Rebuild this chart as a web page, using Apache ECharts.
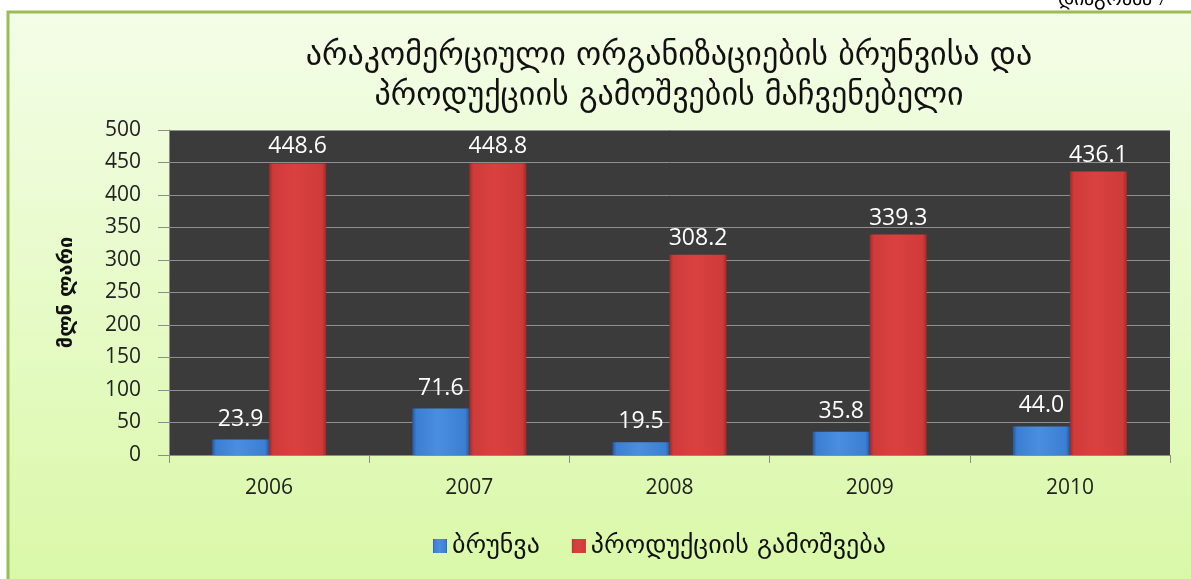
<!DOCTYPE html>
<html><head><meta charset="utf-8">
<script src="https://cdn.jsdelivr.net/npm/echarts@6/dist/echarts.min.js"></script>
<style>html,body{margin:0;padding:0;background:#fff}#c{width:1191px;height:579px}</style>
</head><body><div id="c"></div>
<script>
const categories = ['2006','2007','2008','2009','2010'];
const turnover = [23.9, 71.6, 19.5, 35.8, 44.0];
const production = [448.6, 448.8, 308.2, 339.3, 436.1];
const seriesNames = ['ბრუნვა', 'პროდუქციის გამოშვება'];
const yTicks = {min: 0, max: 500, interval: 50};
const titleLines = ['არაკომერციული ორგანიზაციების ბრუნვისა და', 'პროდუქციის გამოშვების მაჩვენებელი'];
const yName = 'მლნ ლარი';

const geo = '"DejaVu Sans", "Noto Sans", sans-serif';
const num = '"Open Sans", sans-serif';
const chart = echarts.init(document.getElementById('c'), null, {renderer: 'canvas'});
function barGrad(light, mid, dark) {
  return new echarts.graphic.LinearGradient(0, 0, 1, 0, [
    {offset: 0, color: dark}, {offset: 0.07, color: mid}, {offset: 0.45, color: light},
    {offset: 0.93, color: mid}, {offset: 1, color: dark}]);
}
chart.setOption({
  backgroundColor: '#ffffff',
  graphic: [
    {type: 'rect', shape: {x: 8, y: 12, width: 1200, height: 600}, z: -10,
     style: {fill: new echarts.graphic.LinearGradient(0, 0, 0, 1, [
       {offset: 0, color: '#f4fde8'}, {offset: 1, color: '#d8f8a4'}]),
       stroke: '#9bbb59', lineWidth: 3}},
    {type: 'text', left: 1058, top: -10, z: 5,
     style: {text: 'დიაგრამა 7', fontSize: 20, fontFamily: 'serif', fill: '#000'}}
  ],
  title: {
    text: titleLines.join('\n'), left: 664, top: 32, textAlign: 'center',
    textStyle: {fontFamily: geo, fontSize: 32, fontWeight: 'normal', color: '#111', lineHeight: 40}
  },
  legend: {
    data: seriesNames, left: 428, top: 528, itemWidth: 14, itemHeight: 14, itemGap: 32,
    icon: 'rect', textStyle: {fontFamily: geo, fontSize: 26, color: '#111'}
  },
  grid: {left: 169, right: 21, top: 130, bottom: 124, show: true, backgroundColor: '#3b3b3b', borderWidth: 0},
  xAxis: {
    type: 'category', data: categories,
    axisLine: {lineStyle: {color: '#8c8c8c'}},
    axisTick: {show: true, length: 8, lineStyle: {color: '#8c8c8c'}},
    axisLabel: {margin: 23, fontSize: 21, color: '#222', fontFamily: num}
  },
  yAxis: {
    type: 'value', min: yTicks.min, max: yTicks.max, interval: yTicks.interval,
    name: yName, nameLocation: 'middle', nameGap: 92, nameRotate: 90,
    nameTextStyle: {fontFamily: geo, fontSize: 20, fontWeight: 'bold', color: '#111'},
    axisLine: {show: true, lineStyle: {color: '#8c8c8c'}},
    axisTick: {show: true, length: 11, inside: false, lineStyle: {color: '#8c8c8c'}},
    axisLabel: {margin: 28, fontSize: 21, color: '#222', fontFamily: num},
    splitLine: {lineStyle: {color: '#8f8f8f', width: 1}}
  },
  series: [
    {name: seriesNames[0], type: 'bar', data: turnover, barWidth: 57, barGap: '0%',
     itemStyle: {color: barGrad('#4a8ee0', '#3b7fd4', '#23589e')},
     label: {show: true, position: 'top', distance: 9, color: '#fff', fontSize: 23,
             fontFamily: num, formatter: p => p.value.toFixed(1)}},
    {name: seriesNames[1], type: 'bar', data: production, barWidth: 57, barGap: '0%',
     itemStyle: {color: barGrad('#d9413f', '#cf3b39', '#9e2a28')},
     label: {show: true, position: 'top', distance: 5, color: '#fff', fontSize: 23,
             fontFamily: num, formatter: p => p.value.toFixed(1)}}
  ]
});
</script></body></html>
